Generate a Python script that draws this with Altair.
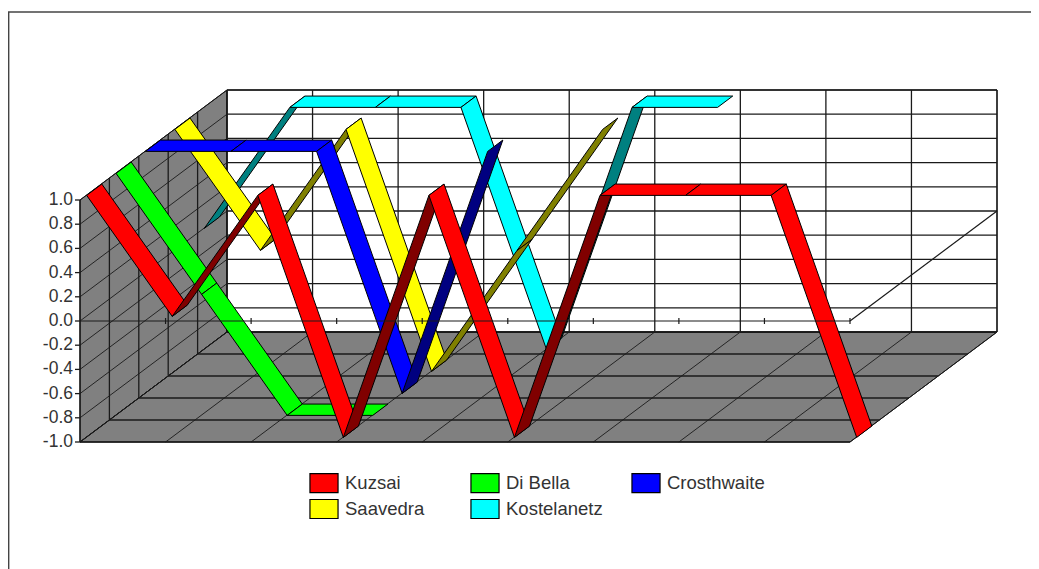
import altair as alt
import pandas as pd

# ---- chart values ----
series_names = ["Kuzsai", "Di Bella", "Crosthwaite", "Saavedra", "Kostelanetz"]
kuzsai = [1, 0, 1, -1, 1, -1, 1, 1, 1, -1]
di_bella = [1, 0, -1, -1]
crosthwaite = [1, 1, 1, -1, 1]
saavedra = [1, 0, 1, -1, 0, 1]
kostelanetz = [0, 1, 1, 1, -1, 1, 1]
series_values = [kuzsai, di_bella, crosthwaite, saavedra, kostelanetz]
bright = ["#ff0000", "#00ff00", "#0000ff", "#ffff00", "#00ffff"]
dark = ["#800000", "#008000", "#000080", "#808000", "#008080"]
value_ticks = [1.0, 0.8, 0.6, 0.4, 0.2, 0.0, -0.2, -0.4, -0.6, -0.8, -1.0]
n_categories = 10
n_series = 5

# ---- simple oblique projection of the 3-D box ----
W, H = 1023, 561
ORG_X, ZERO_Y = 80.0, 321.0
CAT = 770.0 / 9
UNIT = 121.0
DX, DY = 147.0, -110.0
RIB_X0 = 0.5               # first category sits this far in from the wall
D0, D1 = 0.042, 0.145      # ribbon extent inside one series slot, as depth fractions


def proj(cat, val, depth):
    """cat in category steps, val in axis units, depth as a 0..1 fraction"""
    return ORG_X + cat * CAT + depth * DX, ZERO_Y - val * UNIT + depth * DY


def wire(rows, a, b, key):
    for i, p in enumerate((a, b)):
        rows.append({"x": p[0], "y": p[1], "id": key, "seq": i})


# walls
poly_rows = []
def poly(pts, key, fill):
    for i, p in enumerate(list(pts) + [pts[0]]):
        poly_rows.append({"x": p[0], "y": p[1], "id": key, "seq": i, "fill": fill})

poly([proj(0, -1, 0), proj(0, 1, 0), proj(0, 1, 1), proj(0, -1, 1)], "side", "#808080")
poly([proj(0, -1, 0), proj(9, -1, 0), proj(9, -1, 1), proj(0, -1, 1)], "floor", "#808080")
poly([proj(0, -1, 1), proj(0, 1, 1), proj(9, 1, 1), proj(9, -1, 1)], "back", "#ffffff")

# gridlines
grid = []
diag = []
for v in value_ticks:
    wire(diag, proj(0, v, 0), proj(0, v, 1), f"sidev{v}")
    wire(grid, proj(0, v, 1), proj(9, v, 1), f"backv{v}")
for k in range(10):
    wire(diag, proj(k, -1, 0), proj(k, -1, 1), f"floorc{k}")
    wire(grid, proj(k, -1, 1), proj(k, 1, 1), f"backc{k}")
for s in range(1, n_series + 1):
    d = s / n_series
    wire(grid, proj(0, -1, d), proj(0, 1, d), f"sided{s}")
    wire(grid, proj(0, -1, d), proj(9, -1, d), f"floord{s}")
wire(grid, proj(0, 1, 0), proj(0, -1, 0), "yaxis")
wire(grid, proj(0, -1, 0), proj(9, -1, 0), "front")
for v in value_ticks:
    a = proj(0, v, 0)
    wire(grid, (a[0] - 5, a[1]), a, f"ytick{v}")

# ribbons, back to front and left to right
ribbons = []
for s in reversed(range(n_series)):
    vals = series_values[s]
    d0 = (s + D0 / 0.2) * 0.2
    d1 = (s + D1 / 0.2) * 0.2
    off = RIB_X0 / CAT
    for i in range(len(vals) - 1):
        v1, v2 = vals[i], vals[i + 1]
        face = series_names[s] + (" under" if v2 > v1 else "")
        pts = [proj(i + off, v1, d0), proj(i + 1 + off, v2, d0),
               proj(i + 1 + off, v2, d1), proj(i + off, v1, d1)]
        for j, p in enumerate(pts + [pts[0]]):
            ribbons.append({"x": p[0], "y": p[1], "id": f"{s}-{i}", "seq": j, "face": face})

# zero plane drawn in front of the ribbons
front = []
wire(front, proj(0, 0, 0), proj(9, 0, 0), "zero")
wire(front, proj(9, 0, 0), proj(9, 0, 1), "diag")
for k in range(1, 10):
    a = proj(k, 0, 0)
    wire(front, (a[0], a[1] - 3), (a[0], a[1] + 3), f"t{k}")

labels = [{"x": proj(0, v, 0)[0] - 7, "y": proj(0, v, 0)[1], "t": f"{v:.1f}"} for v in value_ticks]

# outer frame
frame = []
wire(frame, (8.6, 12), (8.6, H + 8), "l")
wire(frame, (8, 12), (W + 8, 12), "t")

X = alt.X("x:Q", scale=alt.Scale(domain=[8, 8 + W], nice=False, zero=False), axis=None)
Y = alt.Y("y:Q", scale=alt.Scale(domain=[8 + H, 8], nice=False, zero=False), axis=None)


def lines(rows, **mk):
    return alt.Chart(pd.DataFrame(rows)).mark_line(clip=False, **mk).encode(
        x=X, y=Y, detail="id:N", order=alt.Order("seq:Q"))


walls = alt.Chart(pd.DataFrame(poly_rows)).mark_line(stroke="#000000", strokeWidth=1).encode(
    x=X, y=Y, detail="id:N", order=alt.Order("seq:Q"),
    fill=alt.Fill("fill:N", scale=None))

domain = series_names + [n + " under" for n in series_names]
rng = bright + dark
symbol = "M-1.08,-0.73H1.08V0.73H-1.08Z"
ribbon_layer = alt.Chart(pd.DataFrame(ribbons)).mark_line(
    stroke="#000000", strokeWidth=1, strokeJoin="bevel").encode(
    x=X, y=Y, detail="id:N", order=alt.Order("seq:Q"),
    fill=alt.Fill("face:N", scale=alt.Scale(domain=domain, range=rng),
                  legend=alt.Legend(values=series_names, title=None, orient="none",
                                    legendX=302, legendY=461, direction="horizontal",
                                    columns=3, gridAlign="all", columnPadding=25,
                                    symbolType=symbol, symbolSize=676,
                                    symbolStrokeColor="#000000", symbolStrokeWidth=1.2,
                                    labelFont="Liberation Sans", labelFontSize=18.5,
                                    labelColor="#333333", labelOffset=7, rowPadding=0)))

text = alt.Chart(pd.DataFrame(labels)).mark_text(
    align="right", baseline="middle", font="Liberation Sans", fontSize=17.5, color="#333333").encode(
    x=X, y=Y, text="t:N")

chart = alt.layer(
    walls,
    lines(diag, color="#1a1a1a", strokeWidth=0.9),
    lines(grid, color="#1a1a1a", strokeWidth=1.3),
    ribbon_layer,
    lines(front, color="#1a1a1a", strokeWidth=1.2),
    text,
    lines(frame, color="#444444", strokeWidth=1.6),
).properties(width=W, height=H, padding=0, background="#ffffff",
             autosize=alt.AutoSizeParams(type="none", contains="padding")).configure_view(stroke=None)

chart.save("out.html", embed_options={"renderer": "svg", "actions": False})
